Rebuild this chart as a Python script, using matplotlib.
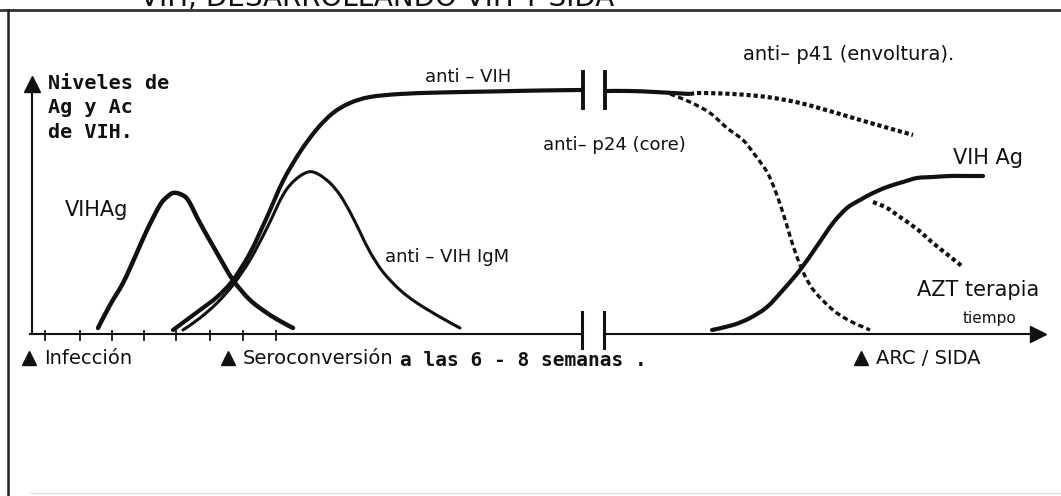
import matplotlib
matplotlib.use("Agg")
import matplotlib.pyplot as plt
from matplotlib.path import Path
from matplotlib.patches import PathPatch

# curves (x = time, y = level, picture units)
vih_ag_early_x = [98, 110, 123, 135, 147, 160, 167, 173, 180, 188, 200, 217, 233, 250, 267, 280, 293]
vih_ag_early_y = [328, 305, 283, 257, 230, 205, 197, 193, 194, 200, 223, 253, 280, 300, 313, 321, 328]

anti_vih_x = [173, 200, 217, 233, 250, 267, 283, 300, 317, 333, 350, 370, 400, 440, 490, 540, 582]
anti_vih_y = [330, 310, 297, 280, 253, 217, 181, 152, 129, 113, 103, 97, 94, 92.5, 91.5, 90.5, 90]

anti_vih_late_x = [605, 630, 655, 690]
anti_vih_late_y = [91, 91, 92, 94]

igm_x = [183, 200, 217, 233, 250, 267, 283, 295, 308, 318, 330, 340, 350, 360, 370, 383, 400, 417, 440, 460]
igm_y = [330, 318, 303, 285, 260, 228, 195, 180, 172, 174, 183, 195, 212, 232, 252, 272, 290, 303, 317, 328]

p41_x = [690, 700, 733, 767, 800, 833, 867, 913]
p41_y = [94, 93, 94, 97, 103, 112, 122, 135]

p24_x = [670, 690, 710, 727, 743, 755, 767, 775, 783, 790, 797, 805, 815, 833, 850, 870]
p24_y = [94, 102, 113, 128, 140, 155, 172, 190, 213, 236, 257, 276, 292, 310, 321, 330]

vih_ag_late_x = [712, 733, 750, 767, 783, 800, 817, 833, 847, 860, 873, 887, 903, 917, 933, 950, 967, 983]
vih_ag_late_y = [330, 325, 318, 307, 290, 270, 246, 223, 208, 200, 193, 187, 182, 178, 177, 176, 176, 176]

azt_x = [873, 887, 900, 917, 933, 948, 963]
azt_y = [202, 208, 217, 229, 243, 255, 267]

tick_x = [45, 80, 112, 144, 176, 210, 243, 276]
break_x = [582, 604]

events = ["Infección", "Seroconversión", "ARC / SIDA"]
event_x = [29, 228, 861]

ink = "#111111"
sans = ["DejaVu Sans"]
hand = ["DejaVu Sans Mono"]


def curve(ax, xs, ys, **kw):
    # smooth line through the read points (catmull-rom as cubic bezier)
    pts = list(zip(xs, ys))
    verts = [pts[0]]
    codes = [Path.MOVETO]
    n = len(pts)
    for i in range(n - 1):
        p0 = pts[max(i - 1, 0)]
        p1 = pts[i]
        p2 = pts[i + 1]
        p3 = pts[min(i + 2, n - 1)]
        c1 = (p1[0] + (p2[0] - p0[0]) / 6, p1[1] + (p2[1] - p0[1]) / 6)
        c2 = (p2[0] - (p3[0] - p1[0]) / 6, p2[1] - (p3[1] - p1[1]) / 6)
        verts += [c1, c2, p2]
        codes += [Path.CURVE4] * 3
    ax.add_patch(PathPatch(Path(verts, codes), fill=False, edgecolor=ink, **kw))


fig = plt.figure(figsize=(10.61, 4.96), dpi=100)
ax = fig.add_axes([0, 0, 1, 1])
ax.set_xlim(0, 1061)
ax.set_ylim(496, 0)
ax.axis("off")

# frame of the scanned page
ax.plot([0, 1061], [10, 10], color="#333333", lw=2)
ax.plot([8, 8], [10, 496], color="#222222", lw=1.8)
ax.plot([30, 1061], [493, 493], color="#dddddd", lw=1)
ax.text(140, 6, "VIH, DESARROLLANDO VIH Y SIDA", fontsize=20, color=ink,
        family=sans, va="baseline", ha="left")

# axes
ax.plot([32, 32], [88, 334], color=ink, lw=1.5)
ax.plot(32, 84, marker="^", ms=11, color=ink)
ax.plot([30, break_x[0]], [334, 334], color=ink, lw=1.5)
ax.plot([break_x[1], 1035], [334, 334], color=ink, lw=1.5)
ax.plot(1038, 334, marker=">", ms=11, color=ink)
for t in tick_x:
    ax.plot([t, t], [331, 340], color=ink, lw=1.3)
for b in break_x:
    ax.plot([b, b], [312, 348], color=ink, lw=2.2)
    ax.plot([b + 1, b + 1], [72, 108], color=ink, lw=2.8)

# curves
curve(ax, vih_ag_early_x, vih_ag_early_y, lw=3.2, capstyle="round")
curve(ax, anti_vih_x, anti_vih_y, lw=3.0, capstyle="round")
curve(ax, anti_vih_late_x, anti_vih_late_y, lw=3.0)
curve(ax, igm_x, igm_y, lw=2.2, capstyle="round")
curve(ax, p41_x, p41_y, lw=3.0, linestyle=(0, (1.0, 0.7)))
curve(ax, p24_x, p24_y, lw=2.4, linestyle=(0, (1.6, 1.0)))
curve(ax, vih_ag_late_x, vih_ag_late_y, lw=3.0, capstyle="round")
curve(ax, azt_x, azt_y, lw=3.0, linestyle=(0, (1.0, 0.8)))

# labels
ax.text(48, 74, "Niveles de\nAg y Ac\nde VIH.", fontsize=14.5, fontweight="bold",
        family=hand, color=ink, va="top", ha="left", linespacing=1.35)
ax.text(65, 210, "VIHAg", fontsize=15, family=sans, color=ink, va="center")
ax.text(425, 77, "anti – VIH", fontsize=13, family=sans, color=ink, va="center")
ax.text(543, 145, "anti– p24 (core)", fontsize=13, family=sans, color=ink, va="center")
ax.text(385, 257, "anti – VIH IgM", fontsize=13, family=sans, color=ink, va="center")
ax.text(743, 55, "anti– p41 (envoltura).", fontsize=14, family=sans, color=ink, va="center")
ax.text(953, 158, "VIH Ag", fontsize=15, family=sans, color=ink, va="center")
ax.text(917, 290, "AZT terapia", fontsize=15, family=sans, color=ink, va="center")
ax.text(963, 318, "tiempo", fontsize=11, family=sans, color=ink, va="center")

for name, x in zip(events, event_x):
    ax.plot(x, 358, marker="^", ms=10, color=ink)
    ax.text(x + 15, 358, name, fontsize=14, family=sans, color=ink, va="center")
ax.text(400, 360, "a las 6 - 8 semanas .", fontsize=14, fontweight="bold",
        family=hand, color=ink, va="center")

fig.savefig("out.png", dpi=100, facecolor="white")
